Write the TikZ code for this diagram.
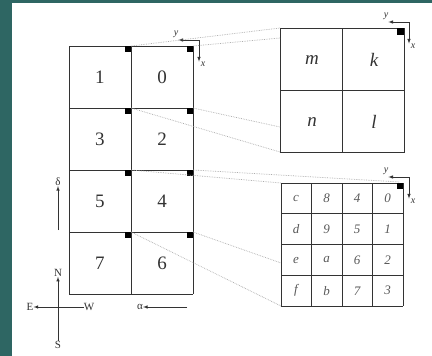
\documentclass[tikz,border=0pt]{standalone}
\usepackage{fontspec}
\setmainfont{Liberation Serif}
\definecolor{slide}{HTML}{2E6663}
\definecolor{ink}{HTML}{333333}
\tikzset{
  gridline/.style = {line width=0.9pt, ink},
  proj/.style = {densely dotted, line width=0.7pt, gray!65},
  bignum/.style = {font=\fontsize{19}{19}\selectfont, text=ink},
  bigletter/.style = {font=\fontsize{19}{19}\selectfont\itshape, text=ink},
  smallcell/.style = {font=\fontsize{13}{13}\selectfont\itshape, text=black!65},
  axlabel/.style = {font=\fontsize{10}{10}\selectfont\itshape, text=ink, inner sep=0pt},
  dirlabel/.style = {font=\fontsize{11}{11}\selectfont, text=ink, inner sep=0pt},
  axarrow/.style = {->, line width=0.6pt, ink}
}
\begin{document}
\begin{tikzpicture}[x=1pt, y=-1pt, >=latex]
\useasboundingbox (0,0) rectangle (432,356);
\fill[slide] (0,0) rectangle (432,356);
\fill[white] (12,3) rectangle (432,356);

% sky grid, 2 x 4 cells
\foreach \c in {0,1,2}
   \foreach \r in {0,...,4}
      \coordinate (p\c\r) at (69+\c*62, 46+\r*62);
\foreach \c in {0,1,2}
   \draw[gridline] (p\c0) -- (p\c4);
\foreach \r in {0,...,4}
   \draw[gridline] (p0\r) -- (p2\r);

\foreach \r [evaluate=\r as \lft using int(2*\r+1), evaluate=\r as \rgt using int(2*\r)] in {0,...,3}{
   \node[bignum] (cell\lft) at (100, 77+\r*62) {\lft};
   \node[bignum] (cell\rgt) at (162, 77+\r*62) {\rgt};
   }

\foreach \c in {1,2}
   \foreach \r in {0,...,3}
      \fill[black] (p\c\r) rectangle ++(-6,6);

% big square
\coordinate (bigTL) at (280,28);
\coordinate (bigBR) at (404,152);
\draw[gridline] (bigTL) rectangle (bigBR);
\draw[gridline] (342,28) -- (342,152);
\draw[gridline] (280,90) -- (404,90);
\fill[black] (404,28) rectangle ++(-7,7);
\node[bigletter] (m) at (312,60) {m};
\node[bigletter] (k) at (374,60) {k};
\node[bigletter] (n) at (312,122) {n};
\node[bigletter] (l) at (374,122) {l};

% small grid, 4 x 4
\coordinate (smTL) at (281,183);
\coordinate (smBR) at (403,306);
\foreach \i in {0,...,4}{
   \draw[gridline] (281+\i*30.5, 183) -- (281+\i*30.5, 306);
   \draw[gridline] (281, 183+\i*30.75) -- (403, 183+\i*30.75);
   }
\fill[black] (403,183) rectangle ++(-6,6);
\foreach \row [count=\j from 0] in {{c,8,4,0},{d,9,5,1},{e,a,6,2},{f,b,7,3}}
   \foreach \t [count=\i from 0] in \row
      \node[smallcell] (s\i\j) at (296+\i*30.5, 198.5+\j*30.75) {\t};

% axes at the corners
\foreach \n/\cx/\cy in {a/199/40, b/409/22, c/409/177}{
   \coordinate (\n o) at (\cx,\cy);
   \node[axlabel] (\n y) at (\cx-23,\cy-6) {y};
   \node[axlabel] (\n x) at (\cx+4,\cy+24) {x};
   \draw[axarrow] (\n o) -- (\n o -| \n y.east);
   \draw[axarrow] (\n o) -- (\n o |- \n x.north);
   }

% projection lines
\coordinate (bigA) at (280,38);
\coordinate (bigB) at (280,127);
\coordinate (bigBL) at (280,152);
\coordinate (smA) at (400,182);
\coordinate (smB) at (281,263);
\coordinate (smBL) at (281,306);
\draw[proj] (p10) -- (bigTL);
\draw[proj] (p20) -- (bigA);
\draw[proj] (p21) -- (bigB);
\draw[proj] (p11) -- (bigBL);
\draw[proj] (p22) -- (smA);
\draw[proj] (p12) -- (smTL);
\draw[proj] (p23) -- (smB);
\draw[proj] (p13) -- (smBL);

% directions
\node[dirlabel] (delta) at (58,182) {δ};
\coordinate (deltafoot) at (58,230);
\draw[axarrow] (deltafoot) -- (delta.south);
\node[dirlabel] (N) at (58,273) {N};
\node[dirlabel] (S) at (58,345) {S};
\node[dirlabel] (E) at (30,307) {E};
\node[dirlabel] (W) at (89,307) {W};
\draw[axarrow] (S.north) -- (N.south);
\draw[axarrow] (W.west) -- (E.east);
\node[dirlabel] (alpha) at (140,307) {α};
\coordinate (alphafoot) at (187,307);
\draw[axarrow] (alphafoot) -- (alpha.east);
\end{tikzpicture}
\end{document}
